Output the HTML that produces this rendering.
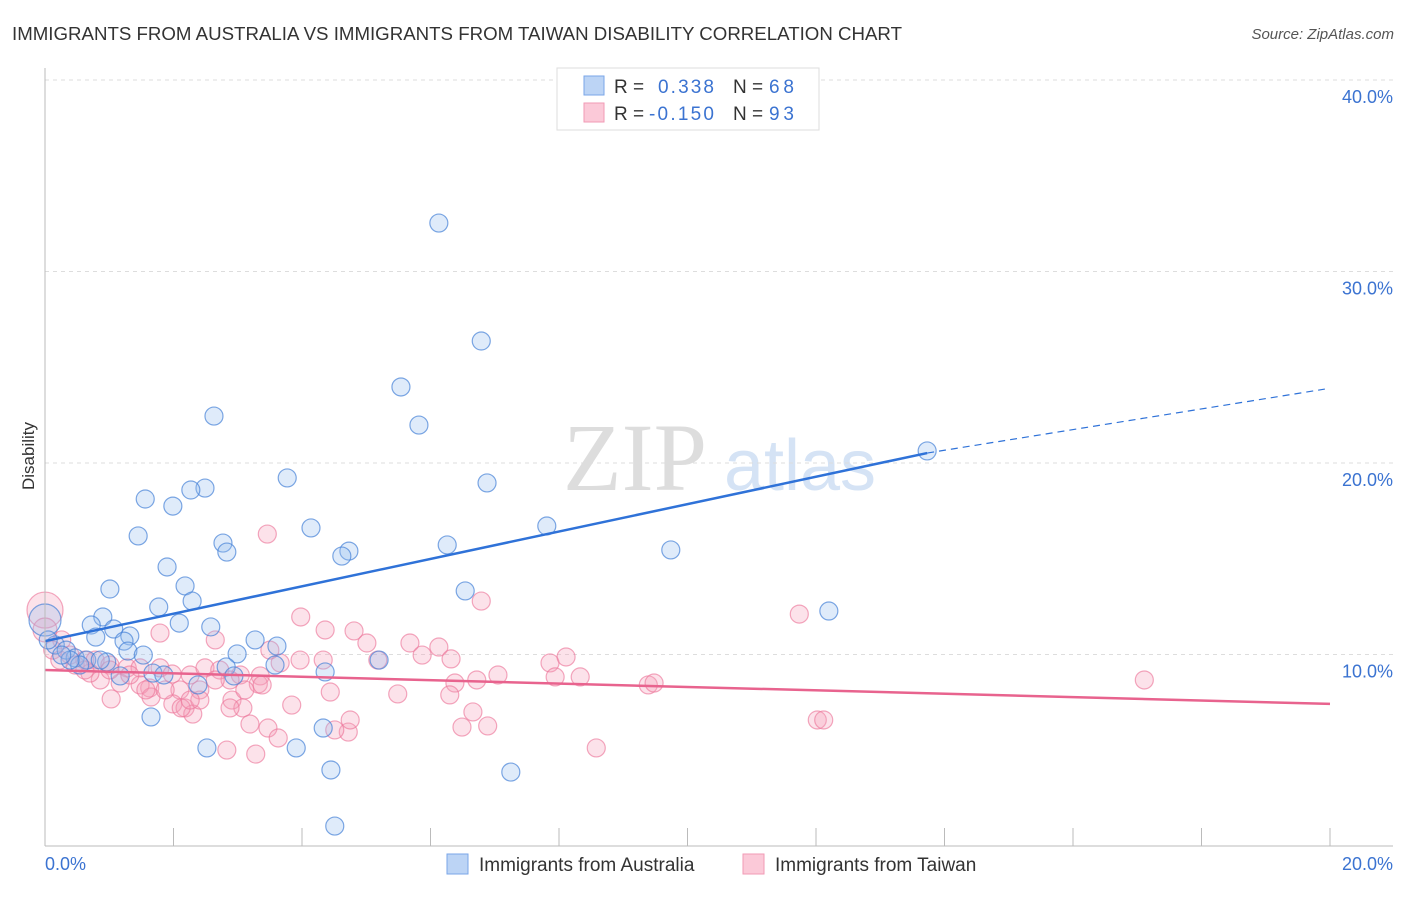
<!DOCTYPE html>
<html><head><meta charset="utf-8"><style>
body{margin:0;background:#fff;font-family:"Liberation Sans",sans-serif}
</style></head><body>
<svg width="1406" height="892" xmlns="http://www.w3.org/2000/svg">
<text x="12" y="40" font-size="18" fill="#333" textLength="890" lengthAdjust="spacingAndGlyphs">IMMIGRANTS FROM AUSTRALIA VS IMMIGRANTS FROM TAIWAN DISABILITY CORRELATION CHART</text>
<text x="1394" y="39" font-size="15" fill="#555" text-anchor="end" font-style="italic">Source: ZipAtlas.com</text>
<text x="34" y="456" font-size="17" fill="#333" text-anchor="middle" transform="rotate(-90 34 456)">Disability</text>
<g><text x="635" y="490" font-size="96" fill="#ddd" font-family="Liberation Serif,serif" text-anchor="middle">ZIP</text><text x="800" y="490" font-size="72" fill="#d5e3f5" text-anchor="middle">atlas</text></g>
<g id="grid"></g><g id="pts"></g><g id="lines"></g>
<line x1="45" y1="68" x2="45" y2="846" stroke="#bbb"/>
<line x1="45" y1="846" x2="1393" y2="846" stroke="#bbb"/>
<text x="45" y="870" font-size="18" fill="#3b73d1">0.0%</text>
<text x="1393" y="870" font-size="18" fill="#3b73d1" text-anchor="end">20.0%</text>
<g>
<rect x="557" y="68" width="262" height="62" fill="#fff" stroke="#ddd"/>
<rect x="584" y="76" width="20" height="19" fill="#bcd4f5" stroke="#7aa6e8"/>
<rect x="584" y="103" width="20" height="19" fill="#fbc9d8" stroke="#f19ab5"/>
<text x="614" y="93" font-size="19" fill="#333">R = </text><text x="658" y="93" font-size="19" fill="#3b73d1" textLength="56">0.338</text>
<text x="733" y="93" font-size="19" fill="#333">N = </text><text x="769" y="93" font-size="19" fill="#3b73d1" textLength="25">68</text>
<text x="614" y="120" font-size="19" fill="#333">R = </text><text x="649" y="120" font-size="19" fill="#3b73d1" textLength="65">-0.150</text>
<text x="733" y="120" font-size="19" fill="#333">N = </text><text x="769" y="120" font-size="19" fill="#3b73d1" textLength="25">93</text>
</g>
<g>
<rect x="447" y="854" width="21" height="20" fill="#bcd4f5" stroke="#7aa6e8"/>
<text x="479" y="871" font-size="19" fill="#333">Immigrants from Australia</text>
<rect x="743" y="854" width="21" height="20" fill="#fbc9d8" stroke="#f19ab5"/>
<text x="775" y="871" font-size="19" fill="#333">Immigrants from Taiwan</text>
</g>
</svg>
<script>
const yTicks=[10,20,30,40];
const xTicks=[0,2,4,6,8,10,12,14,16,18,20];
const blueX=[6.13,6.79,5.54,5.82,2.63,13.73,6.88,3.77,2.49,2.27,1.56,1.99,7.81,4.14,1.45,2.77,6.26,4.73,2.83,4.62,9.74,1.90,1.01,2.18,6.54,2.29,1.77,12.20,0.90,2.09,0.72,1.07,2.58,1.32,0.79,1.23,3.27,3.61,2.99,0.16,0.33,1.29,1.53,0.47,0.65,0.96,5.20,3.58,2.82,4.36,1.68,1.85,1.17,2.94,2.38,1.65,2.52,3.91,4.33,4.45,7.25,4.51,0.54,0.39,0.26,0,0.05,0.86];
const blueY=[32.53,26.37,23.97,21.98,22.45,20.63,18.96,19.22,18.69,18.59,18.12,17.75,16.71,16.61,16.19,15.82,15.72,15.40,15.35,15.14,15.46,14.57,13.42,13.58,13.32,12.79,12.48,12.27,11.96,11.64,11.54,11.33,11.44,10.97,10.91,10.70,10.76,10.44,10.03,10.50,10.23,10.18,9.97,9.82,9.71,9.61,9.71,9.45,9.35,9.09,9.03,8.93,8.88,8.88,8.41,6.74,5.12,5.12,6.16,3.97,3.86,1.04,9.45,9.71,9.97,11.80,10.76,9.71];
const pinkX=[3.46,6.79,3.98,4.81,4.36,11.74,2.65,5.68,6.13,5.01,1.79,0.26,0.12,0.39,0.62,0.78,1.01,1.28,1.48,1.79,1.98,2.26,2.49,2.72,3.04,3.35,3.66,4.33,5.18,5.87,6.32,7.86,8.11,7.94,8.33,7.05,6.72,6.38,9.39,9.48,17.11,3.32,2.88,2.65,2.41,2.10,1.63,1.48,1.17,0.86,0.70,0.47,4.44,5.49,6.30,1.03,1.65,1.99,2.18,2.30,2.12,2.91,3.08,2.88,3.84,3.19,3.47,3.63,4.72,4.51,6.49,6.89,6.66,2.83,3.28,8.58,12.02,12.12,0,0,0.23,1.57,1.32,1.87,2.41,3.11,3.38,1.01,0.62,2.26,3.50,3.97,4.75];
const pinkY=[16.29,12.79,11.96,11.23,11.28,12.11,10.76,10.60,10.39,10.60,11.12,10.76,10.23,9.97,9.71,9.71,9.45,9.30,9.30,9.30,8.98,8.93,9.30,9.19,8.93,8.88,9.56,9.71,9.71,9.97,9.77,9.56,9.87,8.83,8.83,8.93,8.67,8.51,8.41,8.51,8.67,8.46,8.67,8.67,8.15,8.15,8.25,8.41,8.51,8.67,9.03,9.45,8.04,7.94,7.89,7.68,7.78,7.42,7.21,6.89,7.21,7.62,7.21,7.21,7.36,6.37,6.16,5.64,5.95,6.06,6.21,6.27,7.00,5.01,4.80,5.12,6.58,6.58,12.32,11.28,9.71,8.15,8.93,8.15,7.62,8.15,8.41,9.19,9.19,7.62,10.23,9.71,6.58];
const blueTrend=[10.70,20.52,23.86];
const blueTrendX=[0,13.73,19.92];
const pinkTrend=[9.19,7.42];
const pinkTrendX=[0,20];
const NS="http://www.w3.org/2000/svg";
const sx=v=>45+v*64.25, sy=v=>846-v*19.15;
function mk(t,a,p){const e=document.createElementNS(NS,t);for(const k in a)e.setAttribute(k,a[k]);p.appendChild(e);return e;}
const g=document.getElementById('grid');
yTicks.forEach(v=>{
 const l=mk('line',{x1:45,x2:1393,y1:sy(v),y2:sy(v),stroke:'#ddd','stroke-dasharray':'4 4'},g);
 
 
 const t=mk('text',{x:1393,y:sy(v)+23,'font-size':18,fill:'#3b73d1','text-anchor':'end'},g);
 t.textContent=v.toFixed(1)+'%';
 
 
});
xTicks.forEach(v=>{
 const l=mk('line',{x1:sx(v),x2:sx(v),y1:828,y2:846,stroke:'#bbb'},g);
 
 
});
const p=document.getElementById('pts');
pinkX.forEach((x,i)=>{
 const c=mk('circle',{cx:sx(x),cy:sy(pinkY[i]),r:x===0?(i===78?18:12):9,fill:'rgba(244,160,186,0.3)',stroke:'rgba(236,120,155,0.65)','stroke-width':1.2},p);
 
 
});
blueX.forEach((x,i)=>{
 const c=mk('circle',{cx:sx(x),cy:sy(blueY[i]),r:x===0?16:9,fill:'rgba(150,190,240,0.3)',stroke:'rgba(70,130,215,0.7)','stroke-width':1.2},p);
 
 
});
const L=document.getElementById('lines');
const b1=mk('line',{x1:sx(blueTrendX[0]),y1:sy(blueTrend[0]),x2:sx(blueTrendX[1]),y2:sy(blueTrend[1]),stroke:'#2f72d8','stroke-width':2.5},L);


const b2=mk('line',{x1:sx(blueTrendX[1]),y1:sy(blueTrend[1]),x2:sx(blueTrendX[2]),y2:sy(blueTrend[2]),stroke:'#2f72d8','stroke-width':1.2,'stroke-dasharray':'7 5'},L);


const p1=mk('line',{x1:sx(pinkTrendX[0]),y1:sy(pinkTrend[0]),x2:sx(pinkTrendX[1]),y2:sy(pinkTrend[1]),stroke:'#e8638e','stroke-width':2.5},L);


</script>
</body></html>
